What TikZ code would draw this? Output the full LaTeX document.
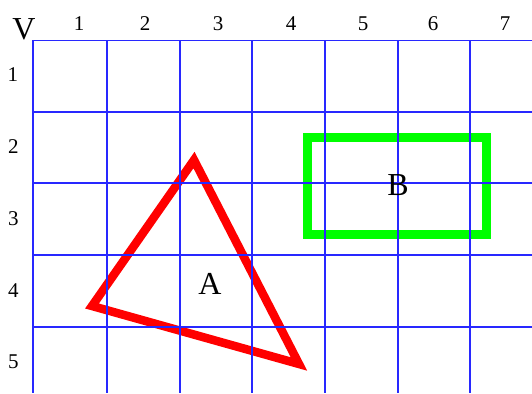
\documentclass[tikz,border=0pt]{standalone}
\usepackage{fontspec}
\setmainfont{Liberation Serif}
\begin{document}
\begin{tikzpicture}[x=1pt,y=-1pt,
  gridline/.style={draw={rgb,255:red,40;green,40;blue,255},line width=1.3pt},
  lbl/.style={inner sep=0pt,font=\fontsize{21}{21}\selectfont},
  big/.style={inner sep=0pt,font=\fontsize{32}{32}\selectfont}]
\useasboundingbox (0,0) rectangle (532,393);
% shapes
\coordinate (t1) at (194,160);
\coordinate (t2) at (92,306);
\coordinate (t3) at (299,364);
\draw[red,line width=8.5pt,line join=miter] (t1) -- (t2) -- (t3) -- cycle;
\draw[green,line width=9pt] (307,137) rectangle (486,234);
% grid
\foreach \x in {33,107,180,252,325,398,470} \draw[gridline] (\x,40.5) -- (\x,393);
\foreach \y in {40.5,112,183,255,327} \draw[gridline] (33,\y) -- (532,\y);
% labels
\node[big] (V) at (24,29) {V};
\node[lbl] (c1) at (79,24) {1};
\node[lbl] (c2) at (145,24) {2};
\node[lbl] (c3) at (218,24) {3};
\node[lbl] (c4) at (291,24) {4};
\node[lbl] (c5) at (363,24) {5};
\node[lbl] (c6) at (433,24) {6};
\node[lbl] (c7) at (505,24) {7};
\node[lbl] (r1) at (13,75) {1};
\node[lbl] (r2) at (13.5,147) {2};
\node[lbl] (r3) at (13.5,219) {3};
\node[lbl] (r4) at (13.5,290.5) {4};
\node[lbl] (r5) at (13.5,362) {5};
\node[big] (A) at (210,283.5) {A};
\node[big] (B) at (398,185) {B};
\end{tikzpicture}
\end{document}
